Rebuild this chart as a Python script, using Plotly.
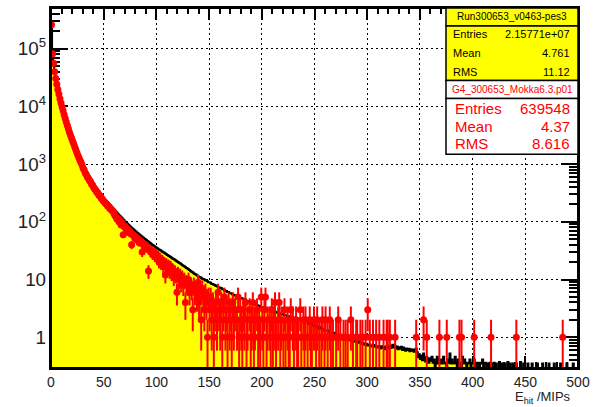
import numpy as np
import plotly.graph_objects as go

# ---------------- data (1-unit bins from 0 to 500) ----------------
x_min, x_max = 0, 500

data_vals = [
    295000, 89100, 57500, 41700, 31600, 25100, 20400, 17000, 14100, 12000,
    10200, 8710, 7410, 6460, 5620, 4900, 4270, 3720, 3310, 2950,
    2630, 2340, 2090, 1860, 1660, 1480, 1350, 1230, 1120, 1020,
    933, 861, 794, 733, 676, 631, 589, 550, 513, 479,
    447, 417, 394, 372, 351, 331, 313, 295, 279, 263,
    251, 240, 229, 219, 209, 200, 191, 182, 174, 166,
    158, 151, 145, 138, 132, 126, 120, 115, 110, 105,
    100, 96.2, 92.5, 88.9, 85.5, 82.2, 79.1, 76.0, 73.3, 70.6,
    68.1, 65.6, 63.2, 61.1, 59.0, 57.0, 55.1, 53.2, 51.4, 49.8,
    48.2, 46.7, 45.2, 43.8, 42.4, 41.0, 39.8, 38.6, 37.5, 36.4,
    35.3, 34.3, 33.3, 32.4, 31.5, 30.6, 29.8, 29.0, 28.2, 27.4,
    26.7, 25.9, 25.2, 24.5, 23.9, 23.2, 22.6, 22.0, 21.4, 20.8,
    20.2, 19.6, 19.1, 18.5, 17.9, 17.4, 16.9, 16.4, 15.9, 15.5,
    15.0, 14.6, 14.1, 13.7, 13.3, 12.9, 12.5, 12.2, 11.8, 11.5,
    11.1, 10.9, 10.7, 10.3, 10.2, 10.0, 9.6, 9.6, 9.3, 9.0,
    9.0, 8.8, 8.4, 8.4, 8.1, 8.0, 7.7, 7.8, 7.4, 7.3,
    7.2, 7.1, 6.8, 6.8, 6.5, 6.4, 6.3, 6.1, 6.1, 5.8,
    5.8, 5.7, 5.5, 5.4, 5.3, 5.3, 5.1, 5.0, 5.0, 4.8,
    4.8, 4.7, 4.6, 4.4, 4.5, 4.3, 4.2, 4.2, 4.1, 4.0,
    3.9, 3.9, 3.8, 3.7, 3.7, 3.6, 3.5, 3.5, 3.4, 3.3,
    3.3, 3.2, 3.2, 3.1, 3.1, 3.0, 3.0, 3.0, 2.9, 2.9,
    2.8, 2.8, 2.8, 2.7, 2.7, 2.6, 2.6, 2.6, 2.5, 2.5,
    2.5, 2.4, 2.4, 2.4, 2.3, 2.3, 2.3, 2.2, 2.2, 2.2,
    2.1, 2.1, 2.1, 2.0, 2.1, 2.0, 2.0, 1.9, 1.9, 1.9,
    1.9, 1.8, 1.8, 1.8, 1.7, 1.7, 1.7, 1.6, 1.7, 1.6,
    1.6, 1.5, 1.6, 1.5, 1.4, 1.5, 1.4, 1.4, 1.4, 1.3,
    1.3, 1.3, 1.3, 1.3, 1.2, 1.2, 1.2, 1.2, 1.1, 1.2,
    1.1, 1.1, 1.1, 1.0, 1.1, 1.0, 1.0, 1.0, 0.95, 1.0,
    0.93, 0.95, 0.90, 0.93, 0.88, 0.90, 0.85, 0.88, 0.84, 0.86,
    0.82, 0.85, 0.80, 0.82, 0.77, 0.80, 0.75, 0.78, 0.74, 0.77,
    0.72, 0.73, 0.75, 0.70, 0.72, 0.68, 0.73, 0.69, 0.70, 0.66,
    0.70, 0.68, 0.64, 0.70, 0.65, 0.68, 0.62, 0.66, 0.70, 0.64,
    0.67, 0.72, 0.65, 0.70, 0.74, 0.66, 0.71, 0.64, 0.69, 0.62,
    0.67, 0.63, 0.68, 0.60, 0.66, 0.62, 0.58, 0.64, 0.60, 0.63,
    0.57, 0.62, 0.58, 0.61, 0.56, 0.60, 0.63, 0.55, 0.45, 0.50,
    0.42, 0.48, 0.40, 0.52, 0.44, 0.38, 0.46, 0.42, 0.36, 0.43,
    0.39, 0.46, 0.36, 0.41, 0, 0.36, 0.46, 0.35, 0.41, 0.36,
    0.35, 0.41, 0.46, 0.35, 0.36, 0, 0.41, 0.36, 0.52, 0.35,
    0.41, 0.36, 0.35, 0.46, 0.36, 0, 0.41, 0.35, 0.36, 0,
    0.46, 0.35, 0.41, 0.36, 0, 0.35, 0.36, 0.41, 0, 0.35,
    0.36, 0.41, 0.35, 0, 0.36, 0.35, 0, 0.36, 0.35, 0.41,
    0, 0.35, 0.36, 0, 0.35, 0, 0.36, 0.35, 0, 0.35,
    0.36, 0, 0.35, 0, 0, 0.37, 0, 0.35, 0, 0,
    0.35, 0, 0, 0.37, 0, 0.35, 0, 0, 0.35, 0,
    0, 0.35, 0, 0, 0, 0.37, 0, 0, 0.35, 0,
    0, 0, 0.35, 0, 0, 0, 0.35, 0, 0, 0,
    0, 0.35, 0, 0, 0, 0, 0.35, 0, 0, 0,
    0, 0, 0.35, 0, 0, 0, 0, 0.35, 0, 0,
    0, 0, 0, 0.35, 0, 0, 0, 0, 0, 0.35,
    0, 0, 0, 0, 0, 0.35, 0, 0, 0, 0,
]

mc_vals = [
    260000, 82000, 56000, 40000, 30500, 24300, 19700, 16400, 13600, 11500,
    9800, 8400, 7150, 6200, 5400, 4700, 4100, 3580, 3180, 2830,
    2520, 2250, 2000, 1790, 1590, 1420, 1290, 1170, 1070, 970,
    850, 790, 700, 660, 600, 570, 520, 500, 450, 430,
    395, 370, 352, 325, 316, 290, 283, 258, 250, 232,
    226, 210, 205, 190, 188, 172, 170, 158, 155, 142,
    130, 124, 112, 115, 100, 104, 88, 95, 60, 82,
    84, 72, 76, 66, 70, 62, 40, 60, 58, 52,
    55, 49, 51, 44, 47, 43, 30, 42, 38, 40,
    35, 37, 14, 33, 30, 32, 27, 30, 25, 28,
    24, 26, 20, 23, 19, 22, 17, 20, 12, 19,
    16, 18, 14, 17, 13, 15, 11, 14, 12, 6,
    13, 10, 12, 9, 11, 8, 10, 4, 9, 8,
    10, 6, 8, 7, 3, 8, 6, 7, 5, 9,
    4, 6, 2, 7, 5, 3, 6, 4, 1, 5,
    3, 5, 2, 4, 1, 3, 4, 2, 6, 3,
    2, 4, 1, 3, 5, 2, 3, 1, 4, 2,
    3, 1, 4, 2, 3, 0, 2, 5, 1, 3,
    2, 1, 3, 2, 4, 1, 2, 0, 3, 1,
    2, 4, 1, 2, 0, 3, 1, 2, 1, 5,
    2, 1, 3, 5, 1, 2, 0, 2, 1, 3,
    1, 2, 4, 1, 0, 2, 4, 1, 2, 0,
    1, 3, 1, 0, 2, 1, 1, 3, 0, 2,
    1, 0, 2, 1, 1, 0, 3, 1, 0, 2,
    1, 2, 0, 1, 0, 2, 1, 1, 0, 2,
    0, 1, 2, 0, 1, 0, 1, 2, 0, 1,
    2, 0, 1, 0, 2, 1, 0, 1, 0, 0,
    1, 0, 2, 0, 1, 0, 0, 1, 0, 1,
    0, 1, 0, 0, 2, 0, 1, 0, 0, 1,
    1, 0, 0, 1, 0, 1, 0, 0, 1, 0,
    3, 0, 1, 0, 0, 1, 0, 0, 1, 0,
    0, 1, 0, 0, 0, 1, 0, 0, 1, 1,
    0, 1, 0, 0, 0, 0, 1, 0, 0, 0,
    0, 0, 0, 0, 0, 0, 0, 0, 0, 0,
    0, 0, 0, 0, 0, 0, 1, 0, 0, 0,
    0, 0, 0, 2, 0, 0, 1, 0, 0, 0,
    0, 0, 0, 0, 0, 0, 0, 0, 1, 0,
    0, 0, 0, 0, 0, 1, 0, 0, 0, 0,
    0, 0, 0, 0, 0, 0, 0, 1, 0, 1,
    0, 0, 0, 0, 0, 0, 0, 0, 0, 0,
    0, 1, 0, 0, 0, 0, 0, 0, 0, 0,
    0, 0, 0, 0, 0, 0, 0, 1, 0, 0,
    0, 0, 0, 0, 0, 0, 0, 0, 0, 0,
    0, 0, 0, 0, 0, 0, 0, 0, 0, 0,
    0, 1, 0, 0, 0, 0, 0, 0, 0, 0,
    0, 0, 0, 0, 0, 0, 0, 0, 0, 0,
    0, 0, 0, 0, 0, 0, 0, 0, 0, 0,
    0, 0, 0, 0, 0, 0, 0, 0, 0, 0,
    0, 0, 0, 0, 0, 1, 0, 0, 0, 0,
    0, 0, 0, 0, 0, 0, 0, 0, 0, 0,
]

data_title = "Run300653_v0463-pes3"
data_stats = [("Entries", "2.15771e+07"), ("Mean", "4.761"), ("RMS", "11.12")]
mc_title = "G4_300653_Mokka6.3.p01"
mc_stats = [("Entries", "639548"), ("Mean", "4.37"), ("RMS", "8.616")]
x_title = "E<sub>hit</sub> /MIPs"

# ---------------- geometry ----------------
W, H = 596, 407
ML, MR, MT, MB = 51, 10, 6, 39
PW, PH = W - ML - MR, H - MT - MB
FONT = "Liberation Sans, Arial, Helvetica, sans-serif"


def px(p):
    return (p - ML) / PW


def py(p):
    return (H - MB - p) / PH


n_bins = len(data_vals)
edges = np.linspace(x_min, x_max, n_bins + 1)
centers = 0.5 * (edges[:-1] + edges[1:])

d = np.array(data_vals, dtype=float)
d_plot = np.where(d > 0, d, 1e-3)
y_step = np.append(d_plot, d_plot[-1])

m = np.array(mc_vals, dtype=float)
mask = m > 0

fig = go.Figure()
fig.add_trace(go.Scatter(
    x=edges, y=y_step, mode="lines",
    line=dict(shape="hv", color="black", width=2),
    fill="tozeroy", fillcolor="#ffff00", hoverinfo="skip", showlegend=False,
))
fig.add_trace(go.Scatter(
    x=centers[mask], y=m[mask], mode="markers",
    marker=dict(color="#ff0000", size=7, symbol="circle"),
    error_y=dict(type="data", array=np.sqrt(m[mask]), color="#ff0000",
                 thickness=2, width=0),
    showlegend=False,
))

axis_common = dict(
    showline=True, linecolor="black", linewidth=2, mirror="allticks",
    ticks="inside", tickcolor="black", tickwidth=2,
    showgrid=True, gridcolor="black", gridwidth=1, griddash="2px,3px",
    zeroline=False, layer="below traces",
)

fig.update_layout(
    width=W, height=H,
    margin=dict(l=ML, r=MR, t=MT, b=MB, pad=0),
    paper_bgcolor="white", plot_bgcolor="white",
    font=dict(family=FONT),
    xaxis=dict(
        range=[x_min, x_max], tick0=0, dtick=50, ticklen=12,
        minor=dict(dtick=10, ticks="inside", ticklen=6, tickcolor="black", tickwidth=2),
        ticklabelstandoff=0, ticklabeloverflow="allow",
        tickfont=dict(family=FONT, size=14, color="#222"),
        **axis_common,
    ),
    yaxis=dict(
        type="log", range=[-0.534, 5.707], dtick=1, exponentformat="power",
        ticklen=17,
        minor=dict(dtick="D1", ticks="inside", ticklen=9, tickcolor="black", tickwidth=2),
        ticklabelstandoff=0,
        tickfont=dict(family=FONT, size=15, color="#222"),
        **axis_common,
    ),
)

shapes = [dict(type="rect", xref="paper", yref="paper", x0=0, x1=1, y0=0, y1=1,
               line=dict(color="black", width=2), layer="above")]
annotations = []

bx0, bx1 = px(452), 1.0
boxes = [
    (6, 24, "#ffff00"),
    (24, 79, "#ffff00"),
    (79, 97, "white"),
    (97, 153, "white"),
]
for top, bot, col in boxes:
    shapes.append(dict(type="rect", xref="paper", yref="paper",
                       x0=bx0, x1=bx1, y0=py(bot), y1=py(top),
                       fillcolor=col, line=dict(color="black", width=1.5),
                       layer="above"))

annotations.append(dict(xref="paper", yref="paper", x=px(519), y=py(15),
                        text=data_title, showarrow=False,
                        font=dict(family=FONT, size=10, color="black"),
                        xanchor="center", yanchor="middle"))
for (lab, val), yy in zip(data_stats, [32, 51, 70]):
    annotations.append(dict(xref="paper", yref="paper", x=px(457), y=py(yy),
                            text=lab, showarrow=False, xanchor="left", yanchor="middle",
                            font=dict(family=FONT, size=11, color="black")))
    annotations.append(dict(xref="paper", yref="paper", x=px(580), y=py(yy),
                            text=val, showarrow=False, xanchor="right", yanchor="middle",
                            font=dict(family=FONT, size=11, color="black")))

annotations.append(dict(xref="paper", yref="paper", x=px(519), y=py(88),
                        text=mc_title, showarrow=False,
                        font=dict(family=FONT, size=10, color="#ff0000"),
                        xanchor="center", yanchor="middle"))
for (lab, val), yy in zip(mc_stats, [107, 125, 142]):
    annotations.append(dict(xref="paper", yref="paper", x=px(459), y=py(yy),
                            text=lab, showarrow=False, xanchor="left", yanchor="middle",
                            font=dict(family=FONT, size=15, color="#ff0000")))
    annotations.append(dict(xref="paper", yref="paper", x=px(580), y=py(yy),
                            text=val, showarrow=False, xanchor="right", yanchor="middle",
                            font=dict(family=FONT, size=15, color="#ff0000")))

annotations.append(dict(xref="paper", yref="paper", x=px(580), y=0, yshift=-MB,
                        text=x_title, showarrow=False, xanchor="right", yanchor="bottom",
                        borderpad=0,
                        font=dict(family=FONT, size=13, color="#222")))

fig.update_layout(shapes=shapes, annotations=annotations)
fig.write_html("out.html")
